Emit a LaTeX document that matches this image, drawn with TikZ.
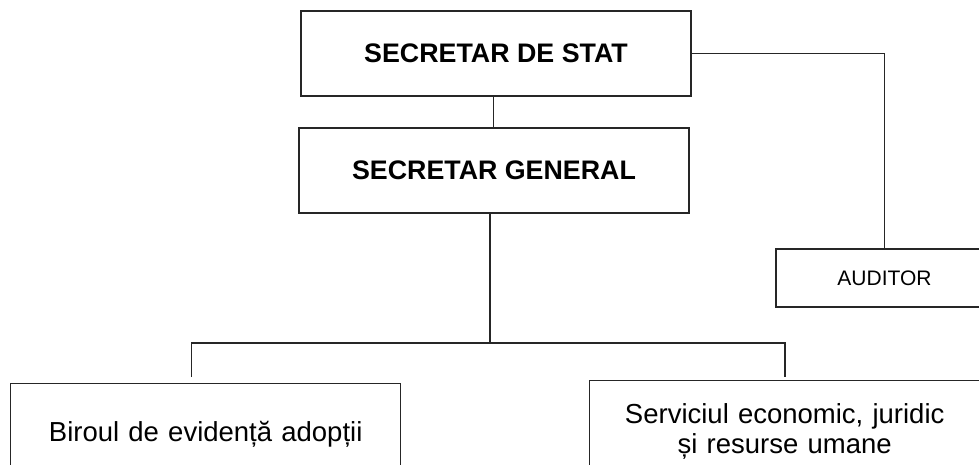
\documentclass[tikz,border=0pt]{standalone}
\usepackage{fontspec}
\setmainfont{Liberation Sans}
\newcommand{\unitfont}{\fontsize{27.5}{30}\selectfont\spaceskip=9.2pt\relax}
\begin{document}
\begin{tikzpicture}[x=1pt,y=-1pt,
  line width=1.5pt,
  box/.style={draw=black!85, line width=1.5pt, inner sep=0pt, outer sep=0pt},
  headbox/.style={box, minimum width=390pt, minimum height=85pt, font=\fontsize{26.8}{31}\selectfont\bfseries},
  smallbox/.style={box, minimum width=217pt, minimum height=58pt, font=\fontsize{21}{25}\selectfont},
  unitbox/.style={box, minimum width=390pt, minimum height=101pt, align=center, font=\unitfont},
  link/.style={draw=black!85, line width=1.5pt}]
\useasboundingbox (0,0) rectangle (979,464);
\clip (0,0) rectangle (979,464);
\node[headbox] (s1) at (496,53.5) {SECRETAR DE STAT};
\node[headbox] (s2) at (494,170.5) {SECRETAR GENERAL};
\node[smallbox] (aud) at (884.5,278) {AUDITOR};
\node[unitbox] (b1) at (205.7,434) {Biroul de evidență adopții};
\node[unitbox] (b2) at (784.7,431) {Serviciul economic, juridic\\și resurse umane};
\coordinate (j) at (490,343);
\coordinate (tl) at (191.7,377);
\coordinate (tr) at (785,377);
\draw[link] ([xshift=-2.7pt]s1.south) -- ([xshift=-2.7pt]s1.south |- s2.north);
\draw[link] (s1.east) -| (aud.north);
\draw[link] ([xshift=-4pt]s2.south) -- (j);
\draw[link] (tl) |- (j) -| (tr);
\end{tikzpicture}
\end{document}
